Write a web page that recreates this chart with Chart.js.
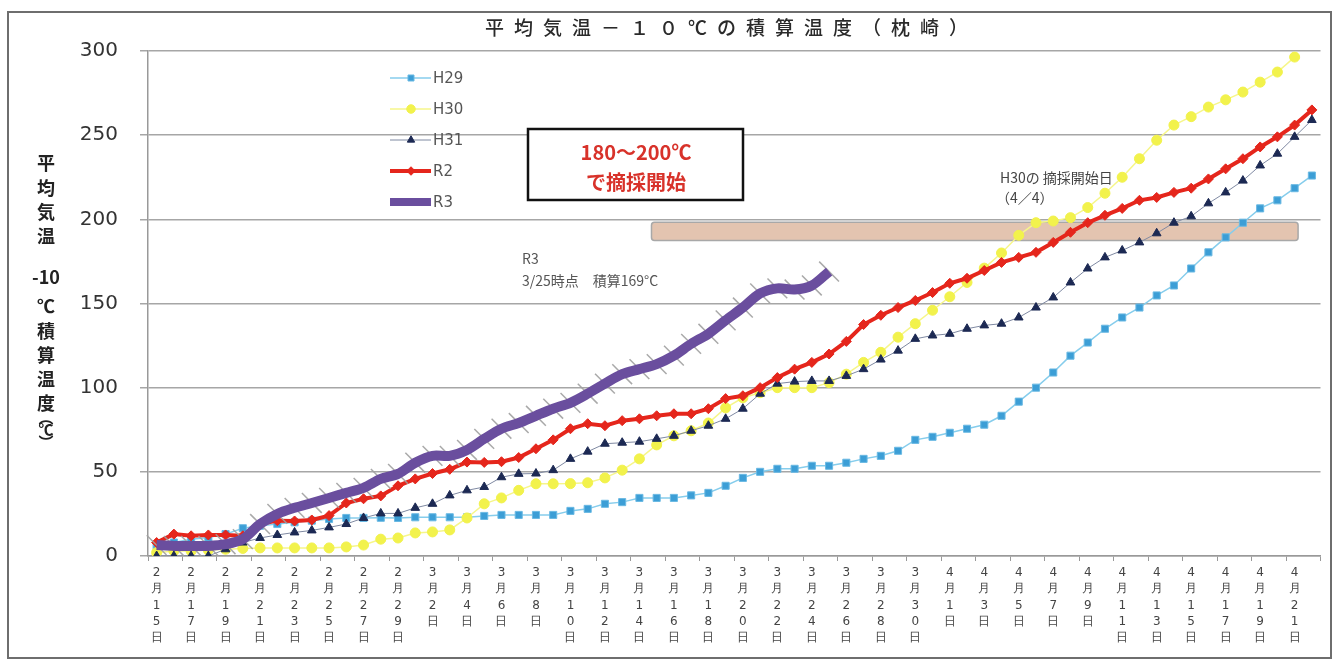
<!DOCTYPE html>
<html lang="ja">
<head>
<meta charset="utf-8">
<title>平均気温－10℃の積算温度(枕崎)</title>
<script src="https://cdn.jsdelivr.net/npm/chart.js@4.4.1/dist/chart.umd.min.js"></script>
<style>
  html, body { margin: 0; padding: 0; background: #fff; }
  #wrap { width: 1336px; height: 661px; }
</style>
</head>
<body>
<div id="wrap"><canvas id="sekisan-chart" width="1336" height="661"></canvas></div>
<script>
// 日付 (2/15 ～ 4/22)
var days = [
  '2月15日','2月16日','2月17日','2月18日','2月19日','2月20日','2月21日','2月22日','2月23日','2月24日',
  '2月25日','2月26日','2月27日','2月28日','2月29日',
  '3月1日','3月2日','3月3日','3月4日','3月5日','3月6日','3月7日','3月8日','3月9日','3月10日',
  '3月11日','3月12日','3月13日','3月14日','3月15日','3月16日','3月17日','3月18日','3月19日','3月20日',
  '3月21日','3月22日','3月23日','3月24日','3月25日','3月26日','3月27日','3月28日','3月29日','3月30日','3月31日',
  '4月1日','4月2日','4月3日','4月4日','4月5日','4月6日','4月7日','4月8日','4月9日','4月10日',
  '4月11日','4月12日','4月13日','4月14日','4月15日','4月16日','4月17日','4月18日','4月19日','4月20日',
  '4月21日','4月22日'
];

// 積算温度 (℃)
var h29 = [6, 8, 10, 11, 13, 16.5, 18, 19, 20, 21, 22, 22.6, 22.6, 22.7, 22.6, 23, 23, 23, 23, 23.8,
  24.4, 24.4, 24.4, 24.4, 26.8, 28, 31, 32, 34.5, 34.5, 34.5, 36, 37.5, 41.7, 46.4, 50, 51.8, 51.8, 53.6, 53.6,
  55.4, 57.7, 59.5, 62.5, 69, 70.8, 73.2, 75.6, 78, 83.3, 91.7, 100, 109, 119, 126.8, 135, 141.7, 147.6, 154.8, 160.7,
  170.8, 180.4, 189.3, 198, 206.5, 211.3, 218.5, 226];
var h30 = [2, 3, 3, 3.5, 4, 4.5, 4.8, 4.8, 4.8, 4.8, 4.8, 5.4, 6.5, 10, 10.7, 13.7, 14.3, 15.5, 22.6, 31,
  34.5, 39, 42.9, 42.9, 43, 43.5, 46.4, 51, 57.7, 66, 71.4, 74.4, 79, 88, 94, 97, 100, 100, 100, 103,
  108, 115, 121, 130, 138, 146, 154, 162.5, 171, 180, 190.5, 198, 199, 201, 207, 215.5, 225, 236, 247, 256,
  261, 266.7, 271, 275.6, 281.5, 287.5, 296.4, null];
var h31 = [0, 0, 0, 0, 4, 8, 10.7, 12.5, 14, 15.2, 17, 19, 22.6, 25.3, 25.3, 28.6, 31, 36, 39, 41,
  46.8, 48.8, 49, 51, 57.7, 62, 66.7, 67.3, 67.9, 69.6, 71.4, 74.4, 77.4, 81.5, 87.5, 96.4, 102.4, 103.6, 104, 104,
  107, 111, 116.7, 122, 129, 131, 132, 135, 137, 138, 141.7, 147.6, 153.6, 162.5, 170.8, 177.4, 181.5, 186.3, 191.7, 198,
  201.8, 209.5, 216, 223, 232, 239, 249, 259];
var r2 = [8, 13, 12, 12.5, 12.5, 12, 19, 21, 20.8, 21.4, 24, 31.5, 34, 35.7, 41.7, 45.8, 49, 51.5, 55.8, 55.6,
  56, 58.5, 63.7, 69, 75.6, 78.6, 77.4, 80.4, 81.5, 83.3, 84.5, 84.5, 87.5, 93.5, 95.2, 100, 106, 111, 115, 120,
  127.5, 137.5, 143, 147.6, 151.8, 156.5, 162, 165, 169.6, 174.4, 177.4, 180.4, 186.3, 192.3, 198, 202.4, 206.5, 211.3, 213, 216,
  218.5, 224, 230, 236, 243, 249, 256, 265];
var r3 = [6.5, 6, 6, 6, 7, 10, 19, 25, 28.6, 31.5, 34.5, 37.5, 40.5, 45.8, 48.8, 55.4, 59.5, 59.5, 63, 69.6,
  75.6, 79, 83.3, 87.5, 91, 96.4, 102.4, 108, 111, 114, 119, 126, 132, 140, 147.6, 156, 159, 158.3, 160.7, 169,
  null, null, null, null, null, null, null, null, null, null, null, null, null, null, null, null, null, null, null, null,
  null, null, null, null, null, null, null, null];

var yTicks = [0, 50, 100, 150, 200, 250, 300];

// 180～200℃ の帯
var band = { from: 28.7, to: 66.2, low: 187.5, high: 198.2 };

var fontJP = "'Noto Sans CJK JP', 'Noto Sans', sans-serif";

var decor = {
  id: 'decor',
  beforeDraw: function (chart) {
    var ctx = chart.ctx;
    ctx.save();
    ctx.fillStyle = '#fff';
    ctx.fillRect(0, 0, chart.width, chart.height);
    ctx.strokeStyle = '#6e6e6e';
    ctx.lineWidth = 2;
    ctx.strokeRect(8, 12, 1323, 646);
    ctx.restore();
  },
  beforeDatasetsDraw: function (chart) {
    var ctx = chart.ctx, x = chart.scales.x, y = chart.scales.y;
    var x0 = x.getPixelForValue(band.from), x1 = x.getPixelForValue(band.to);
    var y0 = y.getPixelForValue(band.high), y1 = y.getPixelForValue(band.low);
    ctx.save();
    ctx.beginPath();
    if (ctx.roundRect) ctx.roundRect(x0, y0, x1 - x0, y1 - y0, 3);
    else ctx.rect(x0, y0, x1 - x0, y1 - y0);
    ctx.fillStyle = 'rgba(222,186,162,0.85)';
    ctx.fill();
    ctx.strokeStyle = '#a8a8a8';
    ctx.lineWidth = 1.5;
    ctx.stroke();
    ctx.restore();
  },
  afterDraw: function (chart) {
    var ctx = chart.ctx;
    ctx.save();

    // タイトル
    ctx.fillStyle = '#2a2a2a';
    ctx.font = '500 19px ' + fontJP;
    ctx.textBaseline = 'middle';
    ctx.textAlign = 'left';
    if ('letterSpacing' in ctx) ctx.letterSpacing = '10px';
    ctx.fillText('平均気温－１０℃の積算温度（枕崎）', 485, 28);
    if ('letterSpacing' in ctx) ctx.letterSpacing = '0px';

    // 縦軸タイトル
    ctx.fillStyle = '#222';
    ctx.textAlign = 'center';
    ctx.font = 'bold 18px ' + fontJP;
    var parts = [['平', 163], ['均', 188], ['気', 212], ['温', 236], ['-10', 277],
      ['℃', 306], ['積', 331], ['算', 355], ['温', 379], ['度', 403]];
    parts.forEach(function (p) { ctx.fillText(p[0], 46, p[1]); });
    ctx.font = 'bold 15px ' + fontJP;
    [['︵', 417], ['℃', 429], ['︶', 442]].forEach(function (p) { ctx.fillText(p[0], 46, p[1]); });

    // 凡例
    var ds = chart.data.datasets;
    for (var i = 0; i < 5; i++) {
      var d = ds[i], ly = 78 + i * 31;
      ctx.strokeStyle = d.borderColor;
      ctx.lineWidth = Math.min(d.borderWidth, 8);
      ctx.beginPath();
      ctx.moveTo(390, ly);
      ctx.lineTo(431, ly);
      ctx.stroke();
      if (d.pointRadius > 0 && Chart.helpers && Chart.helpers.drawPoint) {
        ctx.fillStyle = d.pointBackgroundColor;
        ctx.strokeStyle = d.pointBorderColor;
        ctx.lineWidth = 1;
        Chart.helpers.drawPoint(ctx, { pointStyle: d.pointStyle, radius: d.pointRadius * 0.85, rotation: 0, borderWidth: 1 }, 411, ly);
      }
      ctx.fillStyle = '#555';
      ctx.font = '15px "DejaVu Sans", sans-serif';
      ctx.textAlign = 'left';
      ctx.fillText(d.label, 433, ly + 1);
    }

    // 注記の枠
    ctx.fillStyle = '#fff';
    ctx.fillRect(528, 129, 215, 71);
    ctx.strokeStyle = '#111';
    ctx.lineWidth = 2.5;
    ctx.strokeRect(528, 129, 215, 71);
    ctx.fillStyle = '#d8322a';
    ctx.font = 'bold 20px ' + fontJP;
    ctx.textAlign = 'center';
    ctx.fillText('180〜200℃', 636, 152);
    ctx.fillText('で摘採開始', 636, 182);

    ctx.fillStyle = '#555';
    ctx.font = '14px ' + fontJP;
    ctx.textAlign = 'left';
    ctx.fillText('R3', 522, 259);
    ctx.fillText('3/25時点　積算169°C', 522, 281);
    ctx.fillStyle = '#444';
    ctx.fillText('H30の 摘採開始日', 1000, 178);
    ctx.fillText('（4／4）', 996, 198);

    ctx.restore();
  }
};

new Chart(document.getElementById('sekisan-chart').getContext('2d'), {
  type: 'line',
  data: {
    labels: days,
    datasets: [
      { label: 'H29', data: h29, borderColor: '#86cdec', borderWidth: 1.5, pointStyle: 'rect', pointRadius: 5,
        pointBackgroundColor: '#3c9ed6', pointBorderColor: '#6ab9e3', pointBorderWidth: 1, order: 6 },
      { label: 'H30', data: h30, borderColor: '#f6f68a', borderWidth: 1.5, pointStyle: 'circle', pointRadius: 5,
        pointBackgroundColor: '#f2f24c', pointBorderColor: '#f2f24c', pointBorderWidth: 1, order: 5 },
      { label: 'H31', data: h31, borderColor: '#7f89a2', borderWidth: 1, pointStyle: 'triangle', pointRadius: 5,
        pointBackgroundColor: '#1c2953', pointBorderColor: '#1c2953', pointBorderWidth: 1, order: 4 },
      { label: 'R2', data: r2, borderColor: '#e5261c', borderWidth: 4, pointStyle: 'rectRot', pointRadius: 5,
        pointBackgroundColor: '#e5261c', pointBorderColor: '#e5261c', pointBorderWidth: 1, order: 3 },
      { label: 'R3', data: r3, borderColor: '#6a4e9e', borderWidth: 10, pointRadius: 0, tension: 0.3, order: 1 },
      { label: 'R3 marker', data: r3, showLine: false, pointStyle: 'line', pointRadius: 14, pointRotation: 45,
        pointBorderColor: 'rgba(160,160,160,0.9)', pointBorderWidth: 1.5, order: 2 }
    ]
  },
  options: {
    responsive: false,
    animation: false,
    events: [],
    layout: { padding: { top: 51, left: 10, right: 14, bottom: 8 } },
    plugins: { legend: { display: false }, title: { display: false }, tooltip: { enabled: false } },
    scales: {
      x: {
        offset: true,
        grid: {
          offset: true, drawOnChartArea: false, drawTicks: true, tickLength: 5,
          color: function (c) { return (c.index === undefined || c.index % 2 === 0) ? '#999' : 'rgba(0,0,0,0)'; }
        },
        border: { color: '#999', width: 1.5 },
        ticks: {
          autoSkip: false, maxRotation: 0, minRotation: 0, padding: 4, color: '#444',
          font: { family: 'DejaVu Sans', size: 12, lineHeight: 1.35 },
          callback: function (value, index) {
            if (index % 2) return '';
            return Array.from(this.getLabelForValue(value));
          }
        },
        afterFit: function (s) { s.height = 97; }
      },
      y: {
        min: 0, max: 300,
        afterBuildTicks: function (s) { s.ticks = yTicks.map(function (v) { return { value: v }; }); },
        ticks: { padding: 22, color: '#333', font: { family: 'DejaVu Sans', size: 20 } },
        grid: { color: '#a6a6a6', lineWidth: 1.5, tickLength: 8 },
        border: { color: '#999', width: 1.5 },
        afterFit: function (s) { s.width = 138; }
      }
    }
  },
  plugins: [decor]
});
</script>
</body>
</html>
